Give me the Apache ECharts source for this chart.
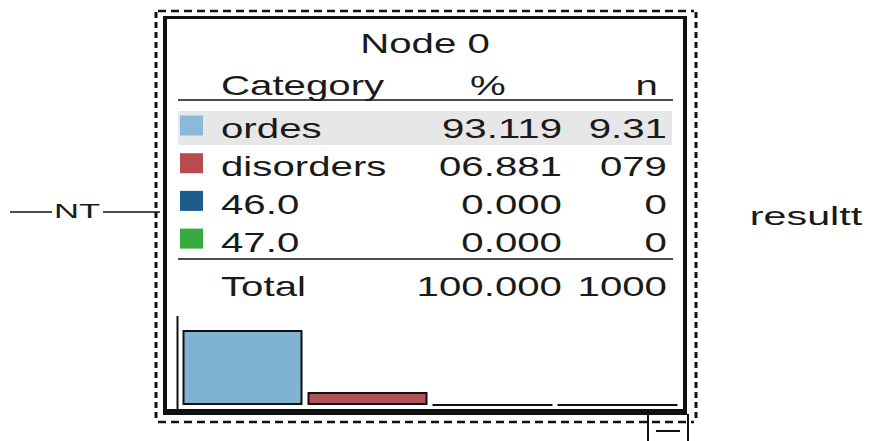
<!DOCTYPE html>
<html>
<head>
<meta charset="utf-8">
<script src="https://cdn.jsdelivr.net/npm/echarts@6/dist/echarts.min.js"></script>
<style>
html,body{margin:0;padding:0;background:#fff;}
#chart{width:869px;height:441px;}
</style>
</head>
<body>
<div id="chart"></div>
<script>
// ---- data ----
const nodeTitle = 'Node 0';
const headers = ['Category', '%', 'n'];
const categories = ['ordes', 'disorders', '46.0', '47.0'];
const percentLabels = ['93.119', '06.881', '0.000', '0.000'];
const percentValues = [93.119, 6.881, 0, 0];
const countLabels = ['9.31', '079', '0', '0'];
const totalRow = ['Total', '100.000', '1000'];
const inputLabel = 'NT';
const targetLabel = 'resultt';
const swatchColors = ['#8ab9d9', '#b84a50', '#1d5d8e', '#36aa3e'];
const barColors = ['#80b2d2', '#b0525a', '#1d5d8e', '#36aa3e'];

// ---- layout ----
const FONT = '27px "Liberation Sans", Arial, sans-serif';
const SX = 1.49;
const rowY0 = 129, pitch = 37.7;
const g = [];
function txt(text, x, y, align, opt) {
  opt = opt || {};
  g.push({
    type: 'text', x: x, y: y, scaleX: opt.sx || SX, z: 20, silent: true,
    style: { text: text, font: opt.font || FONT, fill: '#1a1a1a', textAlign: align, textVerticalAlign: 'middle' }
  });
}
function line(x1, y1, x2, y2, w, dash) {
  g.push({
    type: 'line', z: 15, silent: true,
    shape: { x1: x1, y1: y1, x2: x2, y2: y2 },
    style: { stroke: '#111', lineWidth: w, lineDash: dash || null }
  });
}
// highlighted first row
g.push({ type: 'rect', z: 1, silent: true, shape: { x: 178, y: 111, width: 494, height: 34 }, style: { fill: '#e7e7e7' } });
// title / header
txt(nodeTitle, 425, 43.5, 'center');
txt(headers[0], 221, 85.5, 'left');
txt(headers[1], 488, 85.5, 'center');
txt(headers[2], 658, 85.5, 'right');
line(178, 100, 673, 100, 1.6);
// rows
categories.forEach(function (c, i) {
  const y = rowY0 + i * pitch;
  g.push({ type: 'rect', z: 5, silent: true, shape: { x: 180, y: y - 13.5, width: 23, height: 20 }, style: { fill: swatchColors[i] } });
  txt(c, 221, y, 'left');
  txt(percentLabels[i], 562, y, 'right');
  txt(countLabels[i], 667, y, 'right');
});
line(178, 259, 673, 259, 1.6);
txt(totalRow[0], 221, 286.5, 'left');
txt(totalRow[1], 562, 286.5, 'right');
txt(totalRow[2], 667, 286.5, 'right');
// frame
line(165, 16, 165, 415, 4);
line(163, 17.5, 687, 17.5, 3);
line(685, 16, 685, 415, 4);
line(163, 412, 687, 412, 6);
line(177.5, 316, 177.5, 412, 2);
// dashed outer frame
line(158, 11, 694, 11, 2.5, [8, 5]);
line(158, 422, 694, 422, 2.5, [8, 5]);
line(156, 12, 156, 422, 3, [6, 4]);
line(696, 12, 696, 422, 3, [6, 4]);
// collapse box
line(648, 414, 648, 441, 2);
line(688, 414, 688, 441, 2);
line(656, 431, 680, 431, 2);
// input connector
line(10, 212, 52, 212, 1.6);
line(103, 212, 160, 212, 1.6);
txt(inputLabel, 77, 211, 'center', { font: '21px "Liberation Sans", Arial, sans-serif', sx: 1.65 });
txt(targetLabel, 806, 216, 'center', { font: '25px "Liberation Sans", Arial, sans-serif', sx: 1.65 });

const bigData = percentValues.map(function (v, i) {
  return (v > 0 && v < 10) ? null : { value: v, itemStyle: { color: barColors[i] } };
});
const smallData = percentValues.map(function (v, i) {
  return (v > 0 && v < 10) ? { value: v, itemStyle: { color: barColors[i] } } : null;
});

const chart = echarts.init(document.getElementById('chart'), null, { renderer: 'svg' });
chart.setOption({
  animation: false,
  backgroundColor: '#ffffff',
  grid: { left: 180, right: 189, top: 324.5, bottom: 36 },
  xAxis: { type: 'category', data: categories, show: false },
  yAxis: { type: 'value', min: 0, max: 100, show: false },
  series: [
    { type: 'bar', data: bigData, barWidth: 120, barGap: '-100%', silent: true,
      itemStyle: { borderColor: '#111', borderWidth: 2 } },
    { type: 'bar', data: smallData, barWidth: 120, barGap: '-100%', barMinHeight: 13, silent: true,
      itemStyle: { borderColor: '#111', borderWidth: 2 } }
  ],
  graphic: { elements: g }
});
</script>
</body>
</html>
